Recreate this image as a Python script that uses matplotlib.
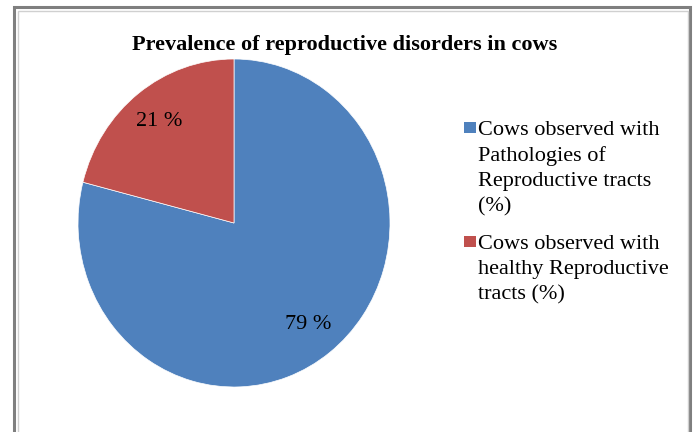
import matplotlib
matplotlib.use("Agg")
import matplotlib.pyplot as plt
from matplotlib.patches import Rectangle

title = "Prevalence of reproductive disorders in cows"
categories = ["Cows observed with\nPathologies of\nReproductive tracts\n(%)",
              "Cows observed with\nhealthy Reproductive\ntracts (%)"]
values = [79, 21]
colors = ["#4F81BD", "#C0504D"]

W, H = 694, 432
fig = plt.figure(figsize=(W / 100, H / 100), dpi=100)
serif = "Liberation Serif"

# border
fig.patches.append(Rectangle((14 / W, -0.05), (690 - 14) / W, 1.05 - 7 / H, transform=fig.transFigure,
                             fill=False, edgecolor="#7f7f7f", linewidth=2.2))
fig.patches.append(Rectangle((17.5 / W, -0.05), (687.5 - 17.5) / W, 1.05 - 10.5 / H,
                             transform=fig.transFigure, fill=False, edgecolor="#d0d0d0", linewidth=1.0))

ax = fig.add_axes([78 / W, (H - 387) / H, 312 / W, 328 / H])
wedges, texts, autotexts = ax.pie(values, colors=colors, startangle=90, counterclock=False,
                                  autopct=lambda p: f"{round(p):d} %", pctdistance=0.78,
                                  wedgeprops=dict(edgecolor="white", linewidth=0.5),
                                  textprops=dict(fontsize=16, family=serif, color="black"))
ax.set_aspect("auto")
ax.set_xlim(-1, 1)
ax.set_ylim(-1, 1)
ax.axis("off")

fig.text(345 / W, 1 - 45 / H, title, ha="center", va="center", fontsize=16,
         fontweight="bold", family=serif)

# legend
tops = [121, 235]
for lab, col, top in zip(categories, colors, tops):
    fig.text(478 / W, 1 - top / H, lab, ha="left", va="top", fontsize=16, family=serif,
             linespacing=1.42)
    fig.patches.append(Rectangle((464 / W, 1 - (top + 12) / H), 12 / W, 11 / H,
                                 transform=fig.transFigure, facecolor=col, edgecolor="none"))

fig.savefig("out.png", dpi=100)
